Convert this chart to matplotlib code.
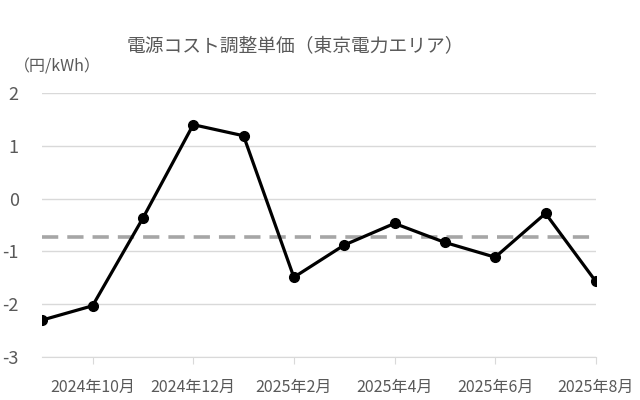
import matplotlib
matplotlib.use("Agg")
import matplotlib.pyplot as plt

plt.rcParams['font.family'] = ['Noto Sans CJK JP', 'DejaVu Sans']

months = ["2024年9月", "2024年10月", "2024年11月", "2024年12月", "2025年1月", "2025年2月",
          "2025年3月", "2025年4月", "2025年5月", "2025年6月", "2025年7月", "2025年8月"]
values = [-2.30, -2.03, -0.37, 1.40, 1.19, -1.49, -0.88, -0.47, -0.83, -1.11, -0.28, -1.57]
average = -0.73
yticks = [2, 1, 0, -1, -2, -3]
title = "電源コスト調整単価（東京電力エリア）"
unit = "（円/kWh）"

TXT = "#595959"
fig = plt.figure(figsize=(6.4, 4.0), dpi=100)
ax = fig.add_axes([0.066, 0.1075, 0.865, 0.66])

x = list(range(len(months)))
ax.axhline(average, color="#A6A6A6", lw=2.6, dashes=(4.5, 2.5), zorder=2)
ax.plot(x, values, color="black", lw=2.3, marker="o", markersize=7, zorder=3)

ax.set_xlim(0, len(months) - 1)
ax.set_ylim(-3, 2)
ax.set_yticks(yticks)
ax.set_yticklabels([str(v) for v in yticks], fontsize=13, color=TXT)
ax.yaxis.grid(True, color="#D9D9D9", lw=1)
ax.set_axisbelow(True)
ax.tick_params(axis="y", length=0, pad=17)

xt = x[1::2]
ax.set_xticks(xt)
ax.set_xticklabels(months[1::2], fontsize=11.5, color=TXT)
ax.tick_params(axis="x", length=5, color="#D9D9D9", pad=11, direction="out")

for s in ["top", "right", "left"]:
    ax.spines[s].set_visible(False)
ax.spines["bottom"].set_color("#D9D9D9")

fig.text(0.461, 0.882, title, ha="center", va="center", fontsize=13.5, color=TXT)
fig.text(0.022, 0.832, unit, ha="left", va="center", fontsize=11.5, color=TXT)

fig.savefig("out.png", dpi=100, facecolor="white")
